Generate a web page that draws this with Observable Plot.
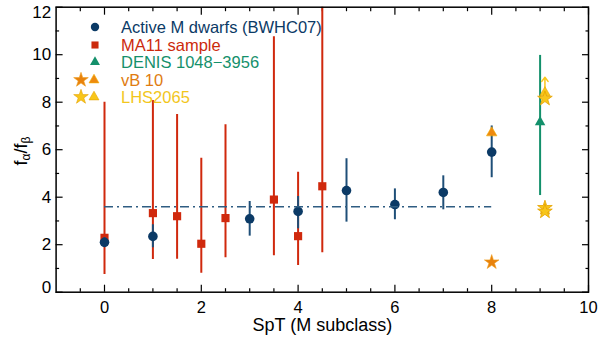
<!DOCTYPE html>
<html><head><meta charset="utf-8">
<script src="https://cdn.jsdelivr.net/npm/d3@7"></script>
<script src="https://cdn.jsdelivr.net/npm/@observablehq/plot@0.6"></script>
<style>
body{margin:0;background:#fff;font-family:"Liberation Sans",Arial,Helvetica,sans-serif}
#wrap{position:relative;width:600px;height:340px;overflow:hidden}
.row{position:absolute;left:71px;height:18px;display:flex;align-items:center;font-size:16.5px;white-space:nowrap;line-height:18px}
.row svg{flex:none}
#ylab{position:absolute;left:22px;top:151px;transform:translate(-50%,-50%) rotate(-90deg);font-size:18px;white-space:nowrap;color:#000}
#ylab sub{font-size:12px;vertical-align:-3px}
</style></head><body><div id="wrap"></div>
<script>
// ---- data ----
const bwhcSpT   = [0, 1, 3, 4, 5, 6, 7, 8];
const bwhcRatio = [2.10, 2.35, 3.09, 3.40, 4.28, 3.69, 4.20, 5.90];
const bwhcLo    = [1.90, 1.87, 2.36, 2.67, 2.95, 3.05, 3.47, 4.82];
const bwhcHi    = [2.30, 2.84, 3.82, 4.03, 5.62, 4.35, 4.90, 7.00];

const ma11SpT   = [0, 1, 1.5, 2, 2.5, 3.5, 4, 4.5];
const ma11Ratio = [2.29, 3.33, 3.20, 2.04, 3.12, 3.90, 2.36, 4.46];
const ma11Lo    = [0.75, 1.38, 1.39, 0.80, 1.45, 1.53, 1.12, 1.66];
const ma11Hi    = [8.00, 8.07, 7.48, 5.64, 7.05, 10.76, 5.05, 13.0];

const denisSpT = [9.0], denisRatio = [7.16], denisLo = [4.07], denisHi = [9.97];

const vb10StarSpT = [8.0], vb10StarRatio = [1.26];
const vb10TriSpT  = [8.0], vb10TriRatio  = [6.71];

const lhsStarSpT = [9.1, 9.1, 9.1], lhsStarRatio = [8.15, 3.55, 3.40];
const lhsTriSpT  = [9.1], lhsTriRatio = [8.40];
const lhsLimitFrom = [8.40], lhsLimitTo = [9.05];

const meanRatio = [3.6], meanFrom = [0], meanTo = [8];

const xLabels = [0, 2, 4, 6, 8, 10];
const xMinor  = [-0.5,0.5,1,1.5,2.5,3,3.5,4.5,5,5.5,6.5,7,7.5,8.5,9,9.5];
const yLabels = [0, 2, 4, 6, 8, 10, 12];
const yMinor  = [1, 3, 5, 7, 9, 11];

const legendLabels = ["Active M dwarfs (BWHC07)", "MA11 sample", "DENIS 1048\u22123956", "vB 10", "LHS2065"];
const legendColors = ["#0b3a66", "#cc2a0c", "#14906b", "#e07c10", "#f2c61c"];

// ---- build rows ----
const navy="#0b3a66", red="#d0290d", green="#13906b", orange="#e8820c", gold="#f8c61a", goldEdge="#e6a300";
const bwhc = bwhcSpT.map((x,i)=>({x, y:bwhcRatio[i], lo:bwhcLo[i], hi:bwhcHi[i]}));
const ma11 = ma11SpT.map((x,i)=>({x, y:ma11Ratio[i], lo:ma11Lo[i], hi:ma11Hi[i]}));
const denis = denisSpT.map((x,i)=>({x, y:denisRatio[i], lo:denisLo[i], hi:denisHi[i]}));
const vbStar = vb10StarSpT.map((x,i)=>({x, y:vb10StarRatio[i]}));
const vbTri = vb10TriSpT.map((x,i)=>({x, y:vb10TriRatio[i]}));
const lhsStar = lhsStarSpT.map((x,i)=>({x, y:lhsStarRatio[i]}));
const lhsTri = lhsTriSpT.map((x,i)=>({x, y:lhsTriRatio[i]}));
const lhsArrow = lhsTriSpT.map((x,i)=>({x, y1:lhsLimitFrom[i], y2:lhsLimitTo[i]}));
const mean = meanRatio.map((y,i)=>({y, x1:meanFrom[i], x2:meanTo[i]}));

const yEnds = yLabels.filter(v => v === 0 || v === 12);
const yMid = yLabels.filter(v => v !== 0 && v !== 12);

const tick = (Ax, data, anchor, size) => Ax(data, {anchor, tickSize:-size, text:null, label:null, strokeWidth:1.2});
const yText = (data, dy) => Plot.axisY(data, {anchor:"left", tickSize:0, tickPadding:5, fontSize:17, label:null, dy});

const chart = Plot.plot({
  width:600, height:340,
  marginLeft:55.6, marginRight:12, marginTop:6.7, marginBottom:48.3,
  x:{domain:[-1,10]}, y:{domain:[0,12]},
  style:{fontFamily:"Liberation Sans, Arial, Helvetica, sans-serif", background:"white", color:"black"},
  marks:[
    Plot.axisX(xLabels, {anchor:"bottom", tickSize:0, tickPadding:9, fontSize:16.5, label:null}),
    yText(yMid, 0),
    yText(yEnds.filter(v => v === 12), 5),
    yText(yEnds.filter(v => v === 0), -5),
    tick(Plot.axisX, xLabels, "bottom", 7), tick(Plot.axisX, xMinor, "bottom", 3.5),
    tick(Plot.axisX, xLabels, "top", 7), tick(Plot.axisX, xMinor, "top", 3.5),
    tick(Plot.axisY, yLabels, "left", 7), tick(Plot.axisY, yMinor, "left", 3.5),
    tick(Plot.axisY, yLabels, "right", 7), tick(Plot.axisY, yMinor, "right", 3.5),
    Plot.text(["SpT (M subclass)"], {frameAnchor:"bottom", dy:38.5, fontSize:18, fill:"black"}),
    // MA11
    Plot.ruleX(ma11, {x:"x", y1:"lo", y2:"hi", stroke:red, strokeWidth:2, clip:true}),
    Plot.dot(ma11, {x:"x", y:"y", symbol:"square", r:4.6, fill:red}),
    // BWHC07
    Plot.ruleX(bwhc, {x:"x", y1:"lo", y2:"hi", stroke:"#1f4f78", strokeWidth:2}),
    Plot.dot(bwhc, {x:"x", y:"y", symbol:"circle", r:4.8, fill:navy}),
    // mean line
    Plot.ruleY(mean, {y:"y", x1:"x1", x2:"x2", stroke:"#2f5d82", strokeWidth:1.6, strokeDasharray:"9,4,2,4"}),
    // DENIS
    Plot.ruleX(denis, {x:"x", y1:"lo", y2:"hi", stroke:green, strokeWidth:2}),
    Plot.dot(denis, {x:"x", y:"y", symbol:"triangle", r:3.9, fill:green}),
    // vB 10
    Plot.dot(vbTri, {x:"x", y:"y", symbol:"triangle", r:3.9, fill:"#ee8a10", stroke:"#f3b000", strokeWidth:0.6}),
    Plot.dot(vbStar, {x:"x", y:"y", symbol:"star", r:4.6, fill:orange, stroke:"#f0a020", strokeWidth:0.6}),
    // LHS2065
    Plot.arrow(lhsArrow, {x:"x", y1:"y1", y2:"y2", stroke:gold, strokeWidth:1.5, headLength:7, headAngle:75}),
    Plot.dot(lhsTri, {x:"x", y:"y", symbol:"triangle", r:3.9, fill:gold, stroke:goldEdge, strokeWidth:0.6}),
    Plot.dot(lhsStar, {x:"x", y:"y", symbol:"star", r:4.6, fill:gold, stroke:goldEdge, strokeWidth:0.8}),
    Plot.frame({stroke:"black", strokeWidth:1.5})
  ]
});
const wrap = document.getElementById("wrap");
wrap.appendChild(chart);

// y-axis label with subscripts
const yl = document.createElement("div");
yl.id = "ylab";
yl.innerHTML = "f<sub>\u03b1</sub>/f<sub>\u03b2</sub>";
wrap.appendChild(yl);

// legend
const sym = (type, r) => d3.symbol().type(type).size(Math.PI*r*r)();
const legendSymbols = [
  [{t:d3.symbolCircle, r:4.2, x:24, c:legendColors[0]}],
  [{t:d3.symbolSquare, r:4.0, x:24, c:legendColors[1]}],
  [{t:d3.symbolTriangle, r:3.7, x:24, c:legendColors[2]}],
  [{t:d3.symbolStar, r:4.6, x:10, c:"#e8820c", s:"#f0a020"}, {t:d3.symbolTriangle, r:3.7, x:23, c:"#ee8a10", s:"#f3b000"}],
  [{t:d3.symbolStar, r:4.6, x:10, c:"#f8c61a", s:"#e6a300"}, {t:d3.symbolTriangle, r:3.7, x:23, c:"#f8c61a", s:"#e6a300"}]
];
const rowTops = [18, 35.5, 53, 70.5, 88];
legendLabels.forEach((lab, i) => {
  const row = document.createElement("div");
  row.className = "row";
  row.style.top = rowTops[i] + "px";
  row.style.color = legendColors[i];
  const paths = legendSymbols[i].map(s =>
    `<path d="${sym(s.t, s.r)}" transform="translate(${s.x},9)" fill="${s.c}" ${s.s ? `stroke="${s.s}" stroke-width="0.6"` : ""}/>`).join("");
  row.innerHTML = `<svg width="50" height="18">${paths}</svg><span>${lab}</span>`;
  wrap.appendChild(row);
});
</script>
</body></html>
